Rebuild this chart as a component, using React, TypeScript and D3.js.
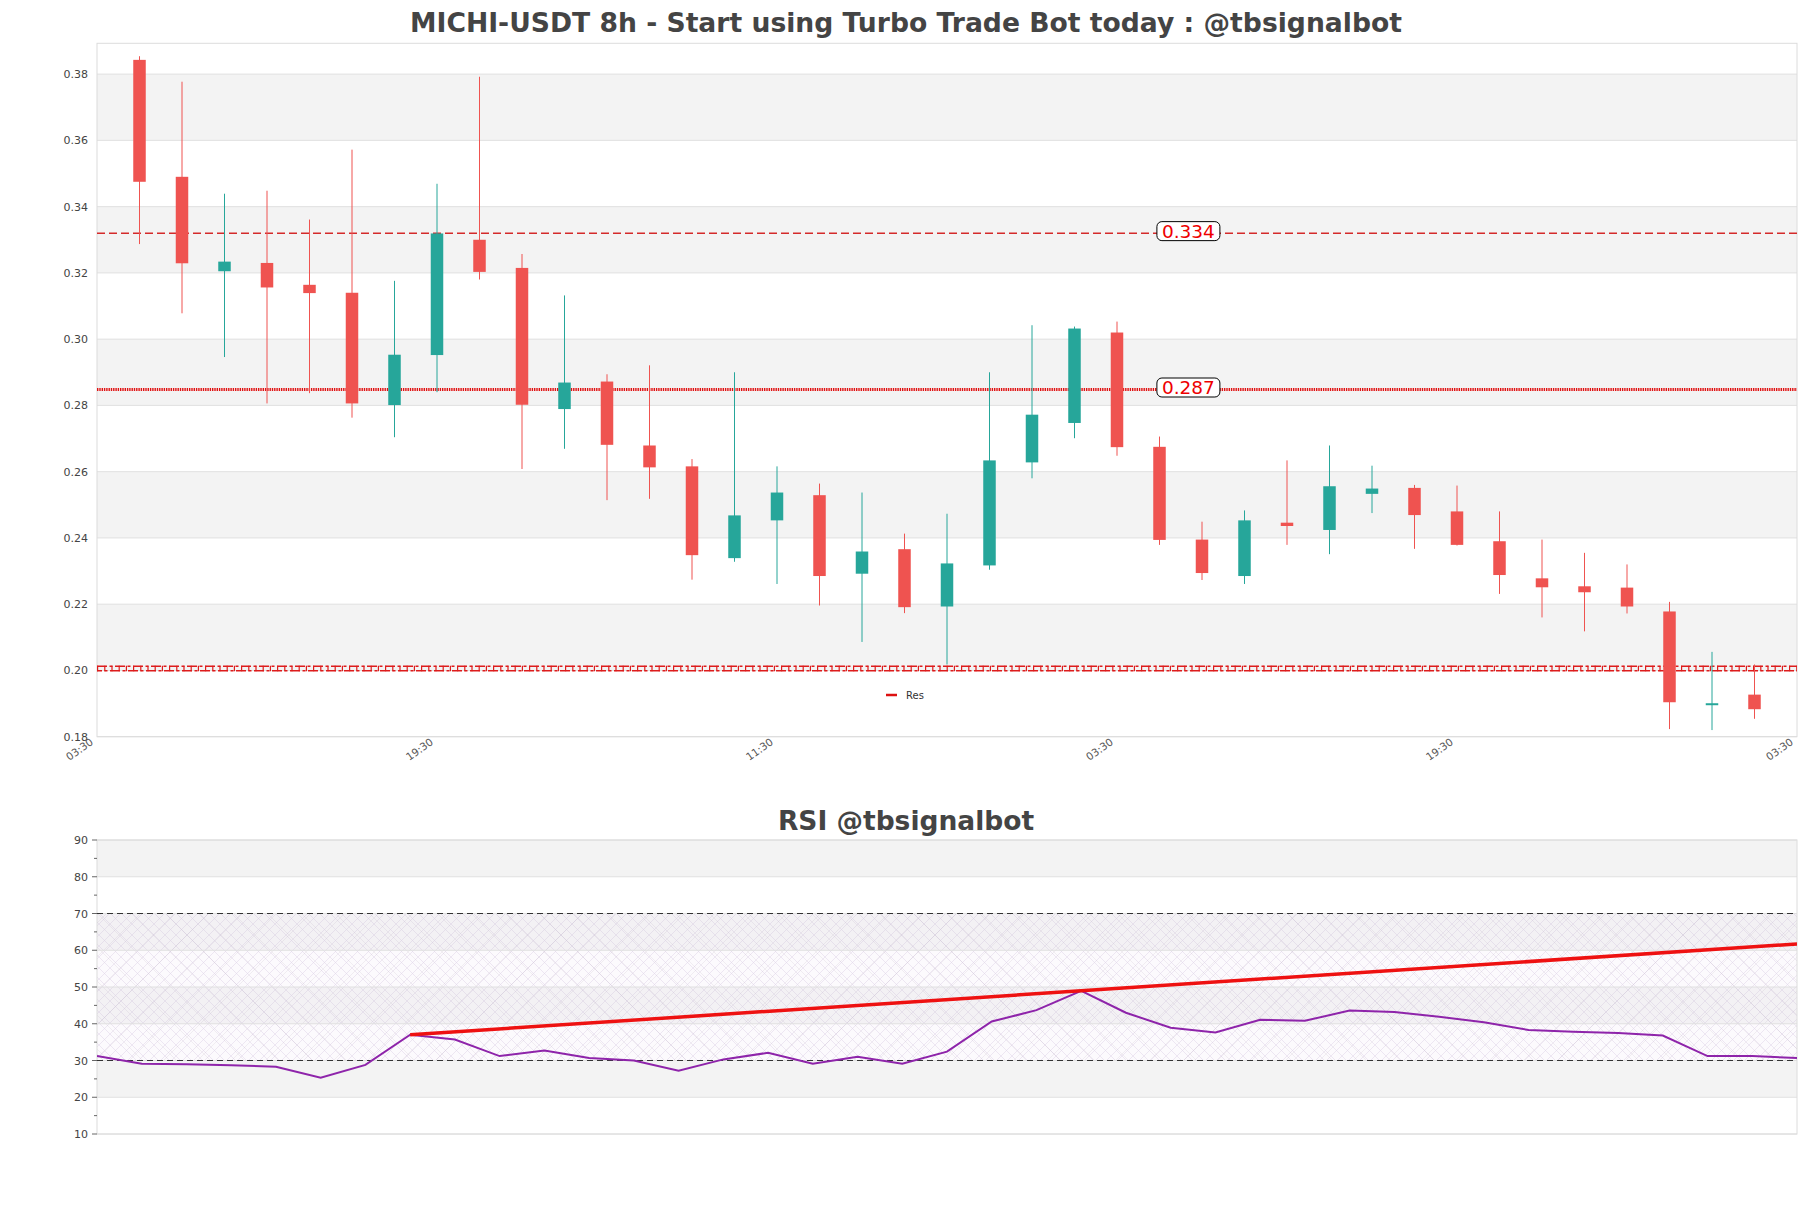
import React from "react";
import * as d3 from "d3";

// ---------- DATA ----------
const candleOpen = [0.3843, 0.349, 0.3205, 0.323, 0.3164, 0.314, 0.2801, 0.2952, 0.33, 0.3215, 0.2789, 0.2872, 0.2679, 0.2616, 0.2339, 0.2453, 0.2529, 0.2292, 0.2366, 0.2193, 0.2317, 0.2628, 0.2747, 0.302, 0.2675, 0.2395, 0.2285, 0.2446, 0.2424, 0.2533, 0.2551, 0.248, 0.239, 0.2278, 0.2254, 0.225, 0.2178, 0.1895, 0.1927];
const candleHigh = [0.3854, 0.3777, 0.3439, 0.3448, 0.3361, 0.3572, 0.3176, 0.3469, 0.3792, 0.3257, 0.3132, 0.2894, 0.2921, 0.2638, 0.29, 0.2616, 0.2564, 0.2537, 0.2413, 0.2473, 0.29, 0.3042, 0.3038, 0.3053, 0.2706, 0.2449, 0.2483, 0.2634, 0.2679, 0.2618, 0.256, 0.2558, 0.248, 0.2395, 0.2355, 0.232, 0.2207, 0.2056, 0.2018];
const candleLow = [0.3287, 0.3078, 0.2946, 0.2806, 0.2837, 0.2763, 0.2704, 0.284, 0.318, 0.2608, 0.2669, 0.2514, 0.2518, 0.2274, 0.2328, 0.2261, 0.2196, 0.2086, 0.2173, 0.2018, 0.2304, 0.258, 0.2701, 0.2648, 0.2379, 0.2273, 0.2261, 0.2379, 0.2351, 0.2475, 0.2367, 0.2377, 0.2231, 0.216, 0.2118, 0.2172, 0.1823, 0.182, 0.1854];
const candleClose = [0.3475, 0.3229, 0.3234, 0.3156, 0.3139, 0.2806, 0.2953, 0.3319, 0.3203, 0.2802, 0.2869, 0.2681, 0.2613, 0.2348, 0.2468, 0.2537, 0.2285, 0.2359, 0.2191, 0.2323, 0.2634, 0.2772, 0.3032, 0.2674, 0.2394, 0.2294, 0.2453, 0.2436, 0.2556, 0.2549, 0.2469, 0.2379, 0.2288, 0.2251, 0.2236, 0.2193, 0.1904, 0.1901, 0.1883];

const xTickIndex = [-1, 7, 15, 23, 31, 39];
const xTickLabels = ["03:30", "19:30", "11:30", "03:30", "19:30", "03:30"];
const priceTicks = [0.18, 0.2, 0.22, 0.24, 0.26, 0.28, 0.3, 0.32, 0.34, 0.36, 0.38];

const levelDashed = 0.332;
const levelDashedLabel = "0.334";
const levelDotted = 0.2848;
const levelDottedLabel = "0.287";
const levelSupport = 0.2006;
const levelLabelIndex = 24.68;

const rsiValues = [31.2, 29.1, 29.0, 28.7, 28.3, 25.3, 28.8, 37.0, 35.7, 31.2, 32.7, 30.7, 30.0, 27.2, 30.3, 32.1, 29.1, 31.0, 29.1, 32.4, 40.6, 43.7, 48.95, 43.0, 38.9, 37.6, 41.1, 40.8, 43.6, 43.2, 41.9, 40.4, 38.3, 37.8, 37.5, 36.8, 31.2, 31.2, 30.7];
const rsiTrendIndex = [7, 38];
const rsiTrendValue = [37.0, 61.7];
const rsiTicks = [10, 20, 30, 40, 50, 60, 70, 80, 90];
const rsiMinorTicks = [15, 25, 35, 45, 55, 65, 75, 85];
const rsiBounds = [30, 70];

const titleMain = "MICHI-USDT 8h - Start using Turbo Trade Bot today : @tbsignalbot";
const titleRsi = "RSI @tbsignalbot";
const legendLabel = "Res";

// ---------- LAYOUT ----------
const W = 1811;
const H = 1208;
const FONT = "DejaVu Sans, sans-serif";
const UP = "#26a69a";
const DOWN = "#ef5350";

export default function App() {
  const left = 97;
  const right = 1797;
  const mainTop = 43.3;
  const mainBottom = 736.7;
  const rsiTop = 840;
  const rsiBottom = 1134;

  const x = d3.scaleLinear().domain([-1, 39]).range([left, right]);
  const y = d3.scaleLinear().domain([0.18, 0.3893]).range([mainBottom, mainTop]);
  const xr = d3.scaleLinear().domain([0, rsiValues.length - 1]).range([left, right]);
  const yr = d3.scaleLinear().domain([10, 90]).range([rsiBottom, rsiTop]);

  const bodyW = 12.5;

  const rsiLine = d3
    .line<number>()
    .x((_, i) => xr(i))
    .y((d) => yr(d))(rsiValues) as string;

  const trendLine = d3
    .line<number>()
    .x((_, i) => xr(rsiTrendIndex[i]))
    .y((d) => yr(d))(rsiTrendValue) as string;

  const labelX = x(levelLabelIndex);

  const labelBox = (val: number, text: string) => {
    const cy = y(val) - 2;
    return (
      <g>
        <rect x={labelX - 31.5} y={cy - 9.5} width={63} height={19} rx={5} ry={5} fill="#fff" stroke="#000" strokeWidth={1} />
        <text x={labelX} y={cy + 6.5} textAnchor="middle" fontFamily={FONT} fontSize={18.5} fill="#ee0000">
          {text}
        </text>
      </g>
    );
  };

  const ySup = y(levelSupport);

  return (
    <svg width={W} height={H} style={{ position: "absolute", left: 0, top: 0, background: "#fff" }}>
      <defs>
        <pattern id="hatch" width="11" height="11" patternUnits="userSpaceOnUse">
          <path d="M0,0 L11,11 M11,0 L0,11" stroke="#c4b2d2" strokeWidth="0.5" opacity="0.55" />
        </pattern>
        <pattern id="hatch2" width="34" height="34" patternUnits="userSpaceOnUse">
          <path d="M0,0 L34,34 M34,0 L0,34" stroke="#b5aabd" strokeWidth="0.5" opacity="0.35" />
        </pattern>
        <clipPath id="mainClip">
          <rect x={left} y={mainTop} width={right - left} height={mainBottom - mainTop} />
        </clipPath>
        <clipPath id="rsiClip">
          <rect x={left} y={rsiTop} width={right - left} height={rsiBottom - rsiTop} />
        </clipPath>
      </defs>

      <rect x={0} y={0} width={W} height={H} fill="#fff" />

      {/* Titles */}
      <text x={906} y={31.5} textAnchor="middle" fontFamily={FONT} fontWeight="bold" fontSize={26.5} fill="#444" textLength={992} lengthAdjust="spacingAndGlyphs">
        {titleMain}
      </text>
      <text x={906} y={830} textAnchor="middle" fontFamily={FONT} fontWeight="bold" fontSize={26.5} fill="#444">
        {titleRsi}
      </text>

      {/* ===== MAIN PANEL ===== */}
      <g>
        {priceTicks.slice(0, -1).map((t, i) =>
          i % 2 === 1 ? (
            <rect key={"b" + i} x={left} width={right - left} y={y(priceTicks[i + 1])} height={y(t) - y(priceTicks[i + 1])} fill="#f3f3f3" />
          ) : null
        )}
        {priceTicks.map((t) => (
          <line key={"g" + t} x1={left} x2={right} y1={y(t)} y2={y(t)} stroke="#e0e0e0" strokeWidth={1} />
        ))}
        <rect x={left} y={mainTop} width={right - left} height={mainBottom - mainTop} fill="none" stroke="#dcdcdc" strokeWidth={1} />
        {priceTicks.map((t) => (
          <text key={"yl" + t} x={88} y={y(t) + 4} textAnchor="end" fontFamily={FONT} fontSize={11} fill="#444">
            {t.toFixed(2)}
          </text>
        ))}
        {xTickIndex.map((t, i) => (
          <text
            key={"xl" + i}
            transform={`translate(${x(t) - 3},${mainBottom + 7}) rotate(-35)`}
            textAnchor="end"
            fontFamily={FONT}
            fontSize={10.5}
            fill="#555"
          >
            {xTickLabels[i]}
          </text>
        ))}

        <g clipPath="url(#mainClip)">
          {/* level lines */}
          <line x1={left} x2={right} y1={y(levelDashed)} y2={y(levelDashed)} stroke="#d42a2a" strokeWidth={1.5} strokeDasharray="8,4" />
          <line x1={left} x2={right} y1={y(levelDotted)} y2={y(levelDotted)} stroke="#e01010" strokeWidth={2.8} strokeDasharray="1.4,0.9" />
          <g>
            <line x1={left} x2={right} y1={ySup - 2.3} y2={ySup - 2.3} stroke="#dd1c1c" strokeWidth={1.5} strokeDasharray="10,2.5,3,2.5" />
            <line x1={left} x2={right} y1={ySup + 2.3} y2={ySup + 2.3} stroke="#dd1c1c" strokeWidth={1.5} strokeDasharray="10,2.5,3,2.5" strokeDashoffset={5} />
            <line x1={left} x2={right} y1={ySup} y2={ySup} stroke="#dd1c1c" strokeWidth={5.5} strokeDasharray="1.2,6" />
          </g>

          {/* candles */}
          {candleOpen.map((o, i) => {
            const c = candleClose[i];
            const up = c >= o;
            const col = up ? UP : DOWN;
            const top = y(Math.max(o, c));
            const bot = y(Math.min(o, c));
            return (
              <g key={"c" + i}>
                <line x1={x(i)} x2={x(i)} y1={y(candleHigh[i])} y2={y(candleLow[i])} stroke={col} strokeWidth={1} />
                <rect x={x(i) - bodyW / 2} y={top} width={bodyW} height={Math.max(bot - top, 1.5)} fill={col} />
              </g>
            );
          })}
        </g>

        {labelBox(levelDashed, levelDashedLabel)}
        {labelBox(levelDotted, levelDottedLabel)}

        {/* legend */}
        <line x1={886} x2={897} y1={695} y2={695} stroke="#dd1111" strokeWidth={2.5} />
        <text x={906} y={698.5} fontFamily={FONT} fontSize={10} fill="#333">
          {legendLabel}
        </text>
      </g>

      {/* ===== RSI PANEL ===== */}
      <g>
        {rsiTicks.slice(0, -1).map((t, i) =>
          i % 2 === 1 ? (
            <rect key={"rb" + i} x={left} width={right - left} y={yr(rsiTicks[i + 1])} height={yr(t) - yr(rsiTicks[i + 1])} fill="#f3f3f3" />
          ) : null
        )}
        <rect x={left} width={right - left} y={yr(rsiBounds[1])} height={yr(rsiBounds[0]) - yr(rsiBounds[1])} fill="#f4eef8" opacity={0.3} />
        <rect x={left} width={right - left} y={yr(rsiBounds[1])} height={yr(rsiBounds[0]) - yr(rsiBounds[1])} fill="url(#hatch)" />
        <rect x={left} width={right - left} y={yr(rsiBounds[1])} height={yr(rsiBounds[0]) - yr(rsiBounds[1])} fill="url(#hatch2)" />
        {rsiTicks.map((t) => (
          <line key={"rg" + t} x1={left} x2={right} y1={yr(t)} y2={yr(t)} stroke="#e0e0e0" strokeWidth={1} />
        ))}
        <rect x={left} y={rsiTop} width={right - left} height={rsiBottom - rsiTop} fill="none" stroke="#dcdcdc" strokeWidth={1} />
        {rsiBounds.map((b) => (
          <line key={"bd" + b} x1={left} x2={right} y1={yr(b)} y2={yr(b)} stroke="#333" strokeWidth={1.2} strokeDasharray="6,4" />
        ))}
        {rsiTicks.map((t) => (
          <g key={"rt" + t}>
            <line x1={left - 5} x2={left} y1={yr(t)} y2={yr(t)} stroke="#666" strokeWidth={1} />
            <text x={88} y={yr(t) + 4} textAnchor="end" fontFamily={FONT} fontSize={11} fill="#444">
              {t}
            </text>
          </g>
        ))}
        {rsiMinorTicks.map((t) => (
          <line key={"rm" + t} x1={left - 3} x2={left} y1={yr(t)} y2={yr(t)} stroke="#666" strokeWidth={1} />
        ))}
        <g clipPath="url(#rsiClip)">
          <path d={rsiLine} fill="none" stroke="#8e24aa" strokeWidth={2} />
          <path d={trendLine} fill="none" stroke="#ee1111" strokeWidth={3.5} />
        </g>
      </g>
    </svg>
  );
}
